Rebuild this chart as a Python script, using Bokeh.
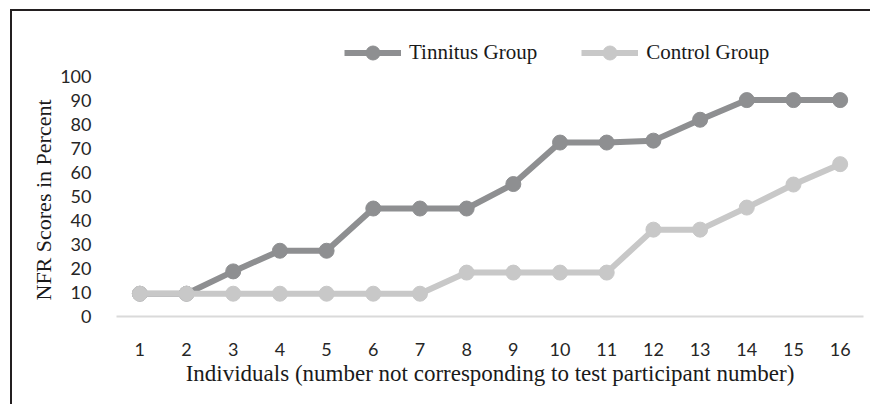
from bokeh.plotting import figure
from bokeh.models import ColumnDataSource, Legend, LegendItem, FactorRange, Range1d, FixedTicker, Title
from bokeh.embed import file_html
from bokeh.resources import INLINE

individuals = ["1", "2", "3", "4", "5", "6", "7", "8", "9", "10", "11", "12", "13", "14", "15", "16"]
tinnitus = [9.5, 9.5, 18.8, 27.4, 27.4, 45.0, 45.0, 45.0, 55.2, 72.5, 72.5, 73.3, 82.0, 90.2, 90.2, 90.2]
control = [9.5, 9.5, 9.5, 9.5, 9.5, 9.5, 9.5, 18.3, 18.3, 18.3, 18.3, 36.2, 36.2, 45.4, 55.0, 63.5]
y_ticks = [0, 10, 20, 30, 40, 50, 60, 70, 80, 90, 100]

TIN_COLOR = "#8e8f91"
CON_COLOR = "#c8c8c8"
SERIF = "Liberation Serif"
SANS = "Lato"

src = ColumnDataSource(data=dict(x=individuals, tin=tinnitus, con=control))

p = figure(
    width=860, height=395,
    x_range=FactorRange(*individuals, range_padding=0),
    y_range=Range1d(0, 119.2),   # headroom above 100 holds the legend
    output_backend="svg", toolbar_location=None,
    min_border_left=104, min_border_right=9, min_border_top=19, min_border_bottom=90,
    styles={"border-top": "2px solid #231f20", "border-left": "2px solid #231f20",
            "border-right": "none", "border-bottom": "none",
            "outline": "none", "box-shadow": "none",
            "margin-left": "10px", "margin-top": "9px"},
)
p.outline_line_color = None
p.grid.grid_line_color = None
p.background_fill_color = "white"
p.border_fill_color = "white"

t_line = p.line("x", "tin", source=src, line_color=TIN_COLOR, line_width=6)
t_pts = p.scatter("x", "tin", source=src, size=15, fill_color=TIN_COLOR, line_color=TIN_COLOR)
c_line = p.line("x", "con", source=src, line_color=CON_COLOR, line_width=6)
c_pts = p.scatter("x", "con", source=src, size=15, fill_color=CON_COLOR, line_color=CON_COLOR)

# x axis
xa = p.xaxis[0]
xa.axis_line_color = "#dadada"
xa.axis_line_width = 2
xa.major_tick_line_color = None
xa.minor_tick_line_color = None
xa.major_label_text_font = SANS
xa.major_label_text_font_size = "18px"
xa.major_label_text_color = "#262626"
xa.major_label_standoff = 20
xa.axis_label = "Individuals (number not corresponding to test participant number)"
xa.axis_label_text_font = SERIF
xa.axis_label_text_font_size = "23px"
xa.axis_label_text_font_style = "normal"
xa.axis_label_text_color = "#1a1a1a"
xa.axis_label_standoff = 2

# y axis (its title is a side Title so it can sit over the 0-100 part only)
ya = p.yaxis[0]
ya.ticker = FixedTicker(ticks=y_ticks)
ya.axis_line_color = None
ya.major_tick_line_color = None
ya.minor_tick_line_color = None
ya.major_label_text_font = SANS
ya.major_label_text_font_size = "18px"
ya.major_label_text_color = "#262626"
ya.major_label_standoff = 19

y_title = Title(
    text="NFR Scores in Percent", align="left", offset=16, standoff=4,
    text_font=SERIF, text_font_size="22px", text_font_style="normal", text_color="#1a1a1a",
)
p.add_layout(y_title, "left")

legend = Legend(
    items=[
        LegendItem(label="Tinnitus Group", renderers=[t_line, t_pts]),
        LegendItem(label="Control Group", renderers=[c_line, c_pts]),
    ],
    orientation="horizontal",
    location=(228, 246),
    glyph_width=57, glyph_height=35,
    label_standoff=8, spacing=44, padding=0, margin=0,
    label_text_font=SERIF, label_text_font_size="21px", label_text_color="#1a1a1a",
    border_line_color=None, background_fill_alpha=0,
)
p.add_layout(legend, "center")

open("out.html", "w").write(file_html(p, INLINE))
